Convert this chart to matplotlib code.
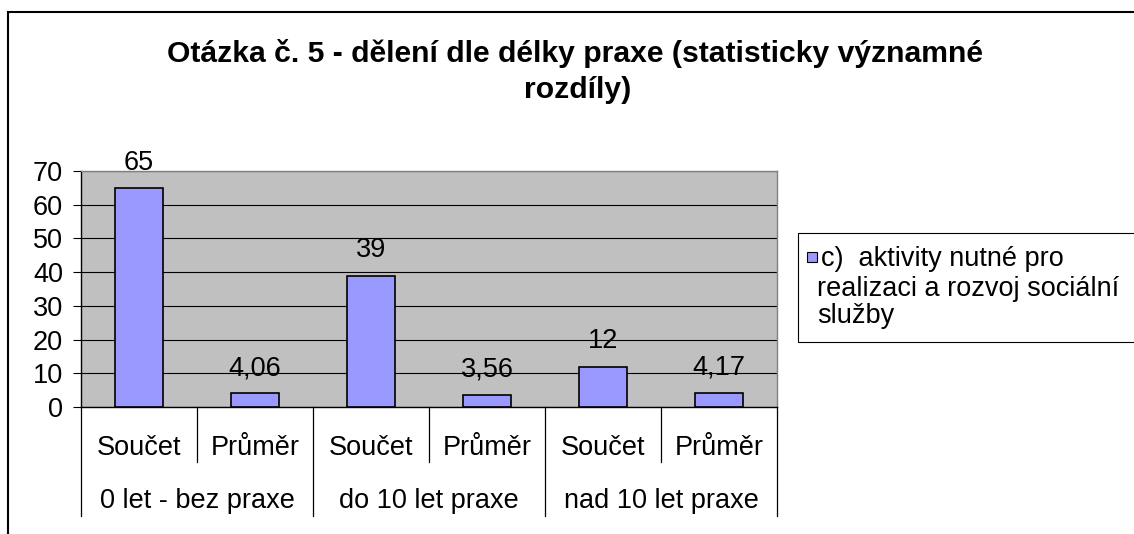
import matplotlib
matplotlib.use("Agg")
import matplotlib.pyplot as plt
import matplotlib.transforms as mtransforms
from matplotlib.patches import Rectangle

# data
groups = ["0 let - bez praxe", "do 10 let praxe", "nad 10 let praxe"]
measures = ["Součet", "Průměr"]
values = [65, 4.06, 39, 3.56, 12, 4.17]
value_labels = ["65", "4,06", "39", "3,56", "12", "4,17"]
series_name = ["c)  aktivity nutné pro", "realizaci a rozvoj sociální", "služby"]
title_lines = ["Otázka č. 5 - dělení dle délky praxe (statisticky významné", "rozdíly)"]

W, H = 1134, 534
BAR_COLOR = "#9999FF"
PLOT_BG = "#C0C0C0"
FS = 19.5

plt.rcParams["font.family"] = ["Liberation Sans", "DejaVu Sans"]

fig = plt.figure(figsize=(W / 100, H / 100), dpi=100)

def fx(px):
    return px / W

def fy(py):
    return 1 - py / H

# plot area in pixels: x 81..777, y 171..407
ax = fig.add_axes([fx(81), fy(407), fx(777) - fx(81), fy(171) - fy(407)])
ax.set_facecolor(PLOT_BG)

x = list(range(len(values)))
bars = ax.bar(x, values, width=0.42, color=BAR_COLOR, edgecolor="black",
              linewidth=1.2, zorder=3)

for b, lab in zip(bars, value_labels):
    ax.annotate(lab, (b.get_x() + b.get_width() / 2, b.get_height()),
                xytext=(0, 13), textcoords="offset points",
                ha="center", va="baseline", fontsize=FS, zorder=5)

ax.set_xlim(-0.5, len(values) - 0.5)
ax.set_ylim(0, 70)
ax.set_yticks(range(0, 71, 10))
ax.tick_params(axis="y", length=5.8, width=0.8, pad=7, labelsize=FS,
               direction="out", colors="black")
ax.set_xticks([])
ax.yaxis.grid(True, color="black", linewidth=0.8)
ax.set_axisbelow(True)

for s in ["top", "right"]:
    ax.spines[s].set_color("#808080")
    ax.spines[s].set_linewidth(1.0)
for s in ["left", "bottom"]:
    ax.spines[s].set_color("black")
    ax.spines[s].set_linewidth(1.0)

# two-level category axis
trans = mtransforms.blended_transform_factory(ax.transData, ax.transAxes)
ax_h = 407 - 171
lvl1_line = -55 / ax_h
lvl2_line = -109 / ax_h
lvl1_text = -48 / ax_h
lvl2_text = -101 / ax_h

for i in range(len(values)):
    ax.text(i, lvl1_text, measures[i % len(measures)], transform=trans,
            ha="center", va="baseline", fontsize=FS)

n = len(measures)
for g, name in enumerate(groups):
    ax.text(g * n + (n - 1) / 2, lvl2_text, name, transform=trans,
            ha="center", va="baseline", fontsize=FS)

for k in range(len(values) + 1):
    xb = k - 0.5
    bottom = lvl2_line if k % n == 0 else lvl1_line
    ax.plot([xb, xb], [0, bottom], transform=trans, color="black",
            linewidth=0.9, clip_on=False)

# title
fig.text(fx(575), fy(62), title_lines[0], ha="center", va="baseline",
         fontsize=21.7, fontweight="bold")
fig.text(fx(578), fy(98), title_lines[1], ha="center", va="baseline",
         fontsize=21.7, fontweight="bold")

# legend box (runs off the right edge like the original)
fig.add_artist(Rectangle((fx(798), fy(342)), fx(400), fy(233) - fy(342),
                         transform=fig.transFigure, facecolor="white",
                         edgecolor="black", linewidth=0.8))
fig.add_artist(Rectangle((fx(807), fy(262)), fx(10), fy(252) - fy(262),
                         transform=fig.transFigure, facecolor=BAR_COLOR,
                         edgecolor="black", linewidth=0.8))
for line, base in zip(series_name, [266, 296, 323]):
    fig.text(fx(821) if base == 266 else fx(817), fy(base), line,
             ha="left", va="baseline", fontsize=FS)

# chart border (left and top edges visible)
fig.add_artist(Rectangle((fx(8), fy(560)), fx(1200), fy(12) - fy(560),
                         transform=fig.transFigure, facecolor="none",
                         edgecolor="black", linewidth=1.5))

fig.savefig("out.png", dpi=100, facecolor="white")
